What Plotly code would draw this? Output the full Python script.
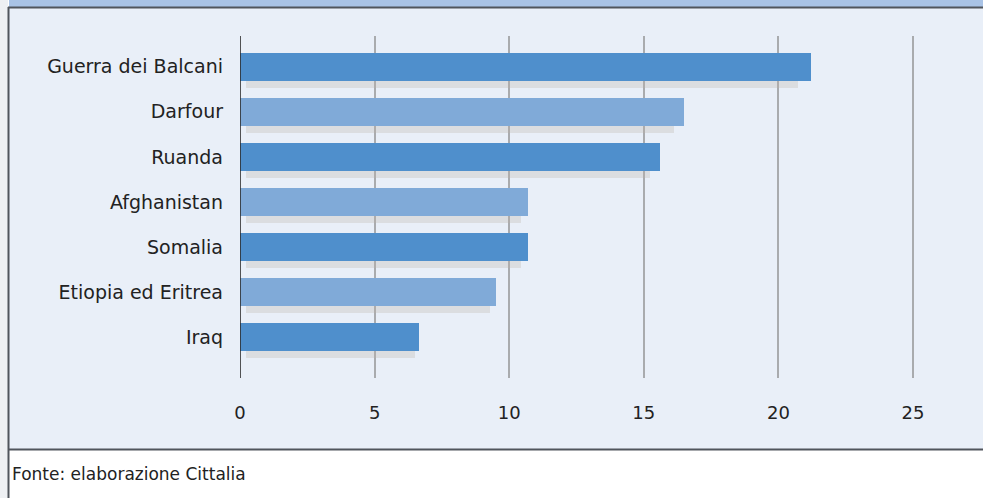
import plotly.graph_objects as go

# Data
categories = ["Guerra dei Balcani", "Darfour", "Ruanda", "Afghanistan",
              "Somalia", "Etiopia ed Eritrea", "Iraq"]
values = [21.2, 16.5, 15.6, 10.7, 10.7, 9.5, 6.65]
bar_colors = ["#4f8fcc", "#80aad8", "#4f8fcc", "#80aad8",
              "#4f8fcc", "#80aad8", "#4f8fcc"]
x_ticks = [0, 5, 10, 15, 20, 25]
source_note = "Fonte: elaborazione Cittalia"

W, H = 983, 498
FONT = "DejaVu Sans, Liberation Sans, sans-serif"
TEXT = "#222222"

pos = list(range(len(categories)))
bar_w = 0.62
shadow_dy = 0.155

fig = go.Figure()

# drop shadow behind each bar, slightly shorter and shifted down
fig.add_trace(go.Bar(
    y=[p + shadow_dy for p in pos],
    x=[v * 0.977 - 0.22 for v in values],
    base=[0.22] * len(values),
    orientation="h", width=bar_w,
    marker=dict(color="rgba(190,179,168,0.3)", line=dict(width=0)),
    hoverinfo="skip", showlegend=False,
))

fig.add_trace(go.Bar(
    y=pos, x=values, orientation="h", width=bar_w,
    marker=dict(color=bar_colors, line=dict(width=0)),
    showlegend=False,
))

plot_l, plot_r, plot_t, plot_b = 240, 940, 36, 378
pw, ph = plot_r - plot_l, plot_b - plot_t


def px_x(x):
    return (x - plot_l) / pw


def px_y(y):
    return (plot_b - y) / ph


panel_bottom = 449
shapes = [
    # chart panel
    dict(type="rect", xref="paper", yref="paper", x0=px_x(9), x1=px_x(W + 5),
         y0=px_y(panel_bottom), y1=px_y(8), fillcolor="#e9eff8",
         line=dict(width=0), layer="below"),
    # header band
    dict(type="rect", xref="paper", yref="paper", x0=px_x(9), x1=px_x(W + 5),
         y0=px_y(7), y1=px_y(-5), fillcolor="#a9c3e6",
         line=dict(width=0), layer="below"),
    # left strip
    dict(type="rect", xref="paper", yref="paper", x0=px_x(-5), x1=px_x(8),
         y0=px_y(H + 5), y1=px_y(-5), fillcolor="#eef0f3",
         line=dict(width=0), layer="below"),
    # frame lines
    dict(type="line", xref="paper", yref="paper", x0=px_x(8), x1=px_x(W + 5),
         y0=px_y(7.5), y1=px_y(7.5), line=dict(color="#50555c", width=2)),
    dict(type="line", xref="paper", yref="paper", x0=px_x(8), x1=px_x(W + 5),
         y0=px_y(panel_bottom + 0.5), y1=px_y(panel_bottom + 0.5),
         line=dict(color="#50555c", width=2)),
    dict(type="line", xref="paper", yref="paper", x0=px_x(8.5), x1=px_x(8.5),
         y0=px_y(H + 5), y1=px_y(7), line=dict(color="#50555c", width=2)),
    # value axis baseline
    dict(type="line", xref="x", yref="paper", x0=0, x1=0, y0=0, y1=1,
         line=dict(color="#2a2a2a", width=1.6)),
]

fig.update_layout(
    width=W, height=H,
    margin=dict(l=plot_l, r=W - plot_r, t=plot_t, b=H - plot_b, pad=0),
    paper_bgcolor="#ffffff",
    plot_bgcolor="rgba(0,0,0,0)",
    barmode="overlay",
    bargap=0,
    shapes=shapes,
    font=dict(family=FONT, color=TEXT, size=18),
    annotations=[dict(
        text=source_note, xref="paper", yref="paper",
        x=px_x(10), y=px_y(474), xanchor="left", yanchor="middle",
        showarrow=False, font=dict(family=FONT, size=17, color=TEXT),
    )],
)

fig.update_xaxes(
    range=[0, pw / 26.92], tickvals=x_ticks, ticktext=[str(t) for t in x_ticks],
    showgrid=True, gridcolor="#a9abae", gridwidth=1.6, zeroline=False,
    showline=False, ticks="", ticklabelstandoff=22,
    tickfont=dict(family=FONT, size=18, color=TEXT), fixedrange=True,
)
fig.update_yaxes(
    range=[6.9, -0.68], tickvals=pos, ticktext=categories,
    showgrid=False, zeroline=False, showline=False, ticks="",
    ticklabelstandoff=16,
    tickfont=dict(family=FONT, size=19, color=TEXT), fixedrange=True,
)

fig.write_html("out.html", config={"displayModeBar": False})
